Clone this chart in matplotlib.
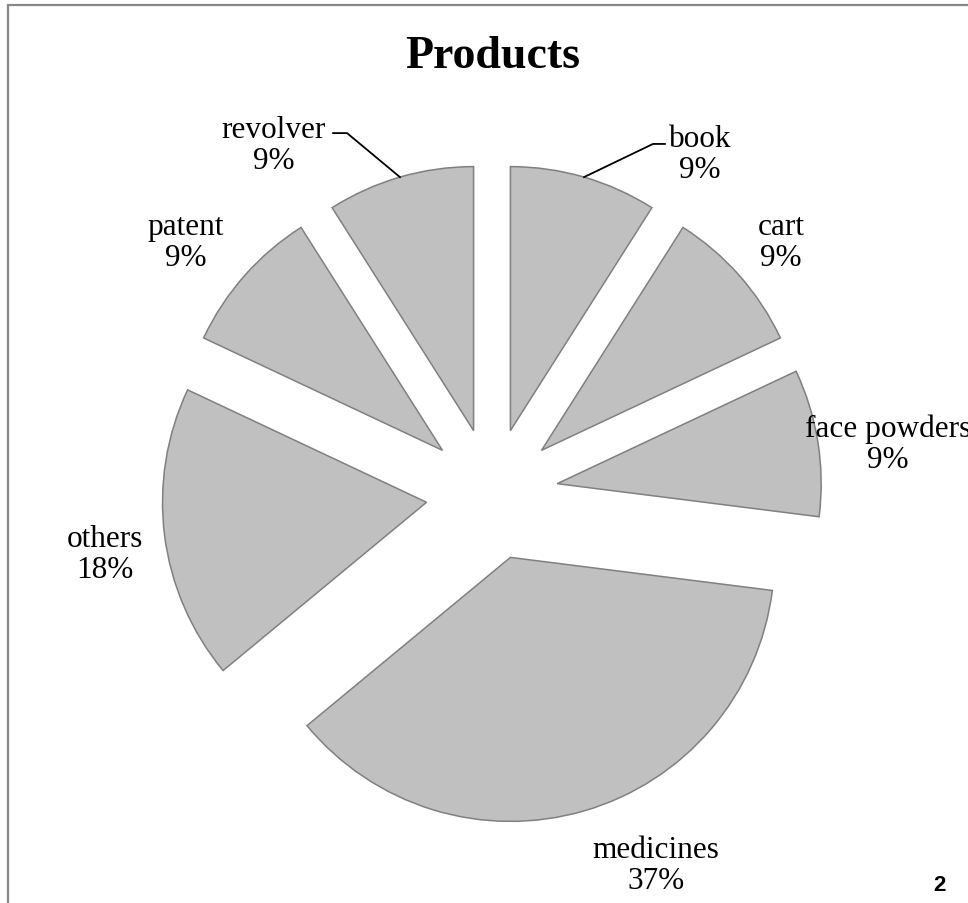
import matplotlib
matplotlib.use('Agg')
import matplotlib.pyplot as plt
import numpy as np
from matplotlib.patches import Rectangle

# Dados do grafico
categorias = ['book', 'cart', 'face powders', 'medicines', 'others', 'patent', 'revolver']
percentuais = [9, 9, 9, 37, 18, 9, 9]

# Posicao dos rotulos (unidades do raio, centro da pizza = 0,0)
pos_rotulos = [(0.788, 1.288), (1.095, 0.955), (1.500, 0.189), (0.621, -1.405),
               (-1.466, -0.227), (-1.159, 0.955), (-0.826, 1.322)]
# linhas de chamada: (dobra, fim) para book e revolver
chamadas = {'book': ((0.610, 1.326), (0.655, 1.326)),
            'revolver': ((-0.549, 1.367), (-0.602, 1.367))}

W, H = 968, 904
cx, cy, r = 492, 495, 264  # centro e raio em pixels

fig = plt.figure(figsize=(W / 100, H / 100), dpi=100)
ax = fig.add_axes([0, 0, 1, 1])

wedges, _ = ax.pie(percentuais, startangle=90, counterclock=False,
                   explode=[0.25] * len(percentuais), radius=1,
                   colors=['#C0C0C0'] * len(percentuais),
                   wedgeprops=dict(edgecolor='#808080', linewidth=1.1))

# limites depois do pie (o pie redefine os limites)
ax.set_aspect('auto')
ax.set_xlim(-cx / r, (W - cx) / r)
ax.set_ylim(-(H - cy) / r, cy / r)
ax.axis('off')

serif = ['Liberation Serif', 'DejaVu Serif']
for w, cat, pct, (lx, ly) in zip(wedges, categorias, percentuais, pos_rotulos):
    ax.text(lx, ly, f'{cat}\n{pct}%', ha='center', va='center', family=serif,
            fontsize=22.5, linespacing=1.1, zorder=5)
    if cat in chamadas:
        ang = np.deg2rad((w.theta1 + w.theta2) / 2)
        x0 = w.center[0] + w.r * np.cos(ang)
        y0 = w.center[1] + w.r * np.sin(ang)
        (bx, by), (ex, ey) = chamadas[cat]
        ax.plot([x0, bx, ex], [y0, by, ey], color='black', lw=1.3, zorder=4)

fig.text(493 / W, 1 - 57 / H, 'Products', ha='center', va='center',
         family=serif, fontsize=33, fontweight='bold')
fig.text(939 / W, 1 - 886 / H, '2', ha='center', va='center',
         family=['Liberation Sans', 'DejaVu Sans'], fontsize=16, fontweight='bold')

# moldura cinza
fig.add_artist(Rectangle((8 / W, -0.1), 1.0, 1.1 - 6 / H, transform=fig.transFigure,
                         fill=False, edgecolor='#888888', linewidth=1.6))

plt.savefig('out.png', dpi=100)
plt.close()
